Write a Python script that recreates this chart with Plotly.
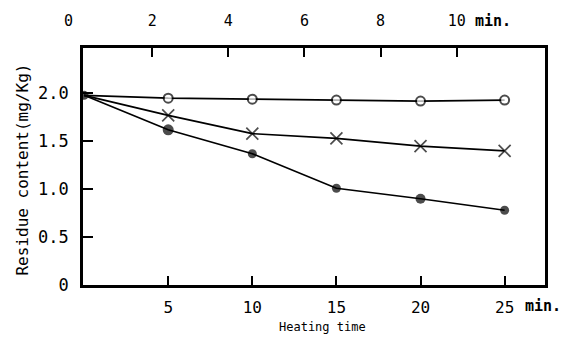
import plotly.graph_objects as go

# Data
heating_time = [0, 5, 10, 15, 20, 25]          # min (bottom axis)
open_circle = [1.98, 1.95, 1.94, 1.93, 1.92, 1.93]
cross = [1.98, 1.77, 1.58, 1.53, 1.45, 1.40]
filled_circle = [1.98, 1.62, 1.37, 1.01, 0.90, 0.78]

bottom_ticks = [5, 10, 15, 20, 25]
bottom_labels = ["5", "10", "15", "20", "25"]
top_ticks = [2, 4, 6, 8, 10]
top_labels = ["2", "4", "6", "8", "10"]
y_ticks = [0, 0.5, 1.0, 1.5, 2.0]
y_labels = ["0", "0.5", "1.0", "1.5", "2.0"]

FONT = "DejaVu Sans Mono"
L, R, T, B = 83, 545.5, 45, 285
W, H = 577, 344

def px(x):
    return (x - L) / (R - L)

def py(y):
    return (B - y) / (B - T)

fig = go.Figure()

fig.add_trace(go.Scatter(
    x=heating_time, y=open_circle, mode="lines+markers",
    line=dict(color="black", width=1.7),
    marker=dict(symbol="circle", size=[0, 9, 9, 9, 9, 9], color="white",
                line=dict(color="black", width=2)),
    showlegend=False, hoverinfo="skip"))

fig.add_trace(go.Scatter(
    x=heating_time, y=cross, mode="lines+markers",
    line=dict(color="black", width=1.7),
    marker=dict(symbol="x-thin-open", size=[0, 12, 12, 12, 12, 12], color="black",
                line=dict(color="black", width=1.7)),
    showlegend=False, hoverinfo="skip"))

fig.add_trace(go.Scatter(
    x=heating_time, y=filled_circle, mode="lines+markers",
    line=dict(color="black", width=1.7),
    marker=dict(symbol="circle", size=[9, 11, 9, 9, 10, 9], color="black",
                line=dict(width=0)),
    showlegend=False, hoverinfo="skip"))

# dummy trace so that the top axis is drawn
fig.add_trace(go.Scatter(
    x=top_ticks, y=[None] * len(top_ticks), xaxis="x2", mode="markers",
    showlegend=False, hoverinfo="skip"))

fig.update_layout(
    width=W, height=H,
    margin=dict(l=L, r=W - R, t=T, b=H - B),
    paper_bgcolor="white", plot_bgcolor="white",
    font=dict(family=FONT, color="black", size=16),
    xaxis=dict(
        range=[-0.065, 27.40], tickvals=bottom_ticks, ticktext=bottom_labels,
        ticks="inside", ticklen=9, tickwidth=1.6, tickcolor="black",
        showline=True, linewidth=2.6, linecolor="black", mirror=True,
        showgrid=False, zeroline=False, ticklabelstandoff=6,
        tickfont=dict(family=FONT, size=16)),
    xaxis2=dict(
        overlaying="x", side="top", range=[0.18, 12.32],
        tickvals=top_ticks, ticktext=top_labels,
        ticks="inside", ticklen=9, tickwidth=1.6, tickcolor="black",
        showline=False, showgrid=False, zeroline=False, ticklabelstandoff=18,
        tickfont=dict(family=FONT, size=15)),
    yaxis=dict(
        range=[0, 2.474], tickvals=y_ticks, ticktext=y_labels,
        ticks="inside", ticklen=10, tickwidth=1.6, tickcolor="black",
        showline=True, linewidth=2.6, linecolor="black", mirror=True,
        showgrid=False, zeroline=False, ticklabelstandoff=8,
        tickfont=dict(family=FONT, size=17)),
)

annots = [
    dict(text="0", x=px(68), y=py(18), size=15),
    dict(text="<b>min.</b>", x=px(493), y=py(18), size=15),
    dict(text="<b>min.</b>", x=px(543), y=py(306), size=15),
    dict(text="Heating time", x=px(323), y=py(328), size=12),
]
for a in annots:
    fig.add_annotation(text=a["text"], x=a["x"], y=a["y"], xref="paper", yref="paper",
                       showarrow=False, xanchor="center", yanchor="middle",
                       font=dict(family=FONT, size=a["size"], color="black"))

fig.add_annotation(text="Residue content(mg/Kg)", x=px(22), y=py(168),
                   xref="paper", yref="paper", showarrow=False, textangle=-90,
                   xanchor="center", yanchor="middle",
                   font=dict(family=FONT, size=16, color="black"))

fig.write_html("out.html")
